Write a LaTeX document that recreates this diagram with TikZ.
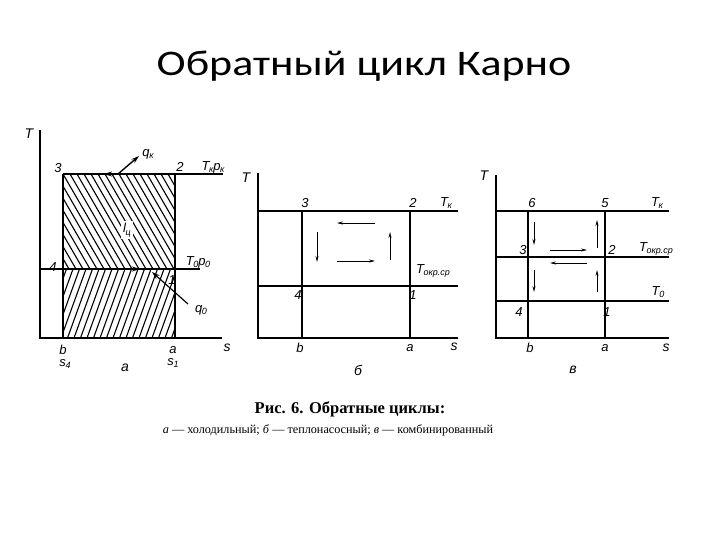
\documentclass[tikz,border=0pt]{standalone}
\usepackage{fontspec}
\setmainfont{Liberation Serif}
\newfontfamily\titlefont{Carlito}
\newfontfamily\labfont{Liberation Sans}
\usetikzlibrary{arrows.meta}
\newcommand\Tsb[2]{#1\kern-0.03em\raisebox{-0.35ex}{\fontsize{9}{9}\selectfont #2}}
\begin{document}
\begin{tikzpicture}[x=1pt,y=-1pt,
  lab/.style={font=\labfont\itshape\fontsize{13}{13}\selectfont, inner sep=1pt},
  axlab/.style={font=\labfont\itshape\fontsize{14}{14}\selectfont, inner sep=1pt},
  heavy/.style={line width=1.7pt},
  axline/.style={line width=1.5pt},
  hatch/.style={line width=1.1pt},
  flow/.style={line width=0.8pt,-{Stealth[length=6pt,width=3pt]}},
  bigtip/.style={line width=1.4pt,-{Stealth[length=8pt,width=5pt]}},
]
\useasboundingbox (0,0) rectangle (720,540);
\fill[white] (0,0) rectangle (720,540);

% title
\node[font=\titlefont\fontsize{36}{36}\selectfont, anchor=base, inner sep=0pt] (title) at (364,76) {\scalebox{1.22}[1]{Обратный цикл Карно}};

% ================= diagram a =================
\coordinate (aTop) at (40,130);
\coordinate (aO) at (40,338);
\coordinate (aS) at (222,338);
\coordinate (a3) at (63,174);
\coordinate (a2) at (175,174);
\coordinate (a4) at (63,269);
\coordinate (a1) at (175,269);
\coordinate (ab) at (63,338);
\coordinate (aa) at (175,338);
% hatching
\begin{scope}
  \clip (a3) rectangle (a1);
  \foreach \x in {0,7,...,180} \draw[hatch] (\x,174) -- (\x+55,269);
\end{scope}
\begin{scope}
  \clip (a4) rectangle (aa);
  \foreach \x in {60,66.5,...,210} \draw[hatch] (\x,269) -- (\x-25,338);
\end{scope}
\draw[axline] (aTop) -- (aO) -- (aS);
\draw[heavy] (a3) -- (223,174);
\draw[heavy] (40,269) -- (200,269);
\draw[heavy] (a3) -- (ab);
\draw[heavy] (a2) -- (aa);
% process arrows
\draw[bigtip] (125,174) -- (104,174);
\draw[bigtip] (118,174) -- (139,156);
\draw[bigtip] (110,269) -- (140,269);
\draw[line width=1.2pt,-{Stealth[length=8pt,width=5pt]}] (188,304) -- (152,272);
\node[lab, fill=white, inner sep=2pt] (lc) at (127,230) {\Tsb{l}{ц}};
\node[axlab] (aT) at (29,134) {T};
\node[axlab] (aSl) at (227,348) {s};
\node[lab] (l3) at (58,168) {3};
\node[lab] (l2) at (180,167) {2};
\node[lab] (lTk) at (213,167) {\Tsb{T}{к}\Tsb{p}{к}};
\node[lab] (lqk) at (148,154) {\Tsb{q}{к}};
\node[lab] (l4) at (53,267) {4};
\node[lab] (lT0) at (198,262) {\Tsb{T}{0}\Tsb{p}{0}};
\node[lab] (l1) at (172,280) {1};
\node[lab] (lq0) at (201,310) {\Tsb{q}{0}};
\node[lab] (lb) at (63,350) {b};
\node[lab] (ls4) at (65,364) {\Tsb{s}{4}};
\node[lab] (la) at (173,350) {a};
\node[lab] (ls1) at (173,363) {\Tsb{s}{1}};
\node[axlab] (capa) at (125,368) {а};

% ================= diagram b =================
\draw[axline] (258,173) -- (258,338) -- (458,338);
\draw[axline] (258,211) -- (458,211);
\draw[axline] (258,286) -- (458,286);
\draw[axline] (302,211) -- (302,338);
\draw[axline] (410,211) -- (410,338);
\draw[flow] (375,223) -- (337,223);
\draw[flow] (317,232) -- (317,262);
\draw[flow] (337,261) -- (375,261);
\draw[flow] (390,260) -- (390,232);
\node[axlab] (bT) at (246,178) {T};
\node[axlab] (bS) at (454,347) {s};
\node[lab] (b3) at (305,203) {3};
\node[lab] (b2) at (413,203) {2};
\node[lab] (bTk) at (446,203) {\Tsb{T}{к}};
\node[lab] (bTo) at (433,271) {\Tsb{T}{окр.ср}};
\node[lab] (b4) at (298,295) {4};
\node[lab] (b1) at (413,295) {1};
\node[lab] (bb) at (300,348) {b};
\node[lab] (ba) at (410,348) {a};
\node[axlab] (capb) at (358,370) {б};

% ================= diagram v =================
\draw[axline] (496,175) -- (496,338) -- (669,338);
\draw[axline] (496,211) -- (669,211);
\draw[axline] (496,257) -- (669,257);
\draw[axline] (496,301) -- (669,301);
\draw[axline] (528,211) -- (528,338);
\draw[axline] (605,211) -- (605,338);
\draw[flow] (534,222) -- (534,245);
\draw[flow] (597,248) -- (597,220);
\draw[flow] (550,250) -- (587,250);
\draw[flow] (587,263) -- (550,263);
\draw[flow] (534,270) -- (534,292);
\draw[flow] (597,292) -- (597,270);
\node[axlab] (vT) at (484,176) {T};
\node[axlab] (vS) at (666,348) {s};
\node[lab] (v6) at (532,203) {6};
\node[lab] (v5) at (605,203) {5};
\node[lab] (vTk) at (657,203) {\Tsb{T}{к}};
\node[lab] (v3) at (523,250) {3};
\node[lab] (v2) at (612,250) {2};
\node[lab] (vTo) at (656,249) {\Tsb{T}{окр.ср}};
\node[lab] (vT0) at (658,292) {\Tsb{T}{0}};
\node[lab] (v4) at (519,312) {4};
\node[lab] (v1) at (607,312) {1};
\node[lab] (vb) at (530,348) {b};
\node[lab] (va) at (605,348) {a};
\node[axlab] (capv) at (573,370) {в};

% caption
\node[font=\bfseries\fontsize{16.5}{16.5}\selectfont] (cap1) at (350,409) {Рис. 6. Обратные циклы:};
\node[font=\fontsize{12.2}{12.2}\selectfont] (cap2) at (328,430) {\textit{а} — холодильный; \textit{б} — теплонасосный; \textit{в} — комбинированный};
\end{tikzpicture}
\end{document}
